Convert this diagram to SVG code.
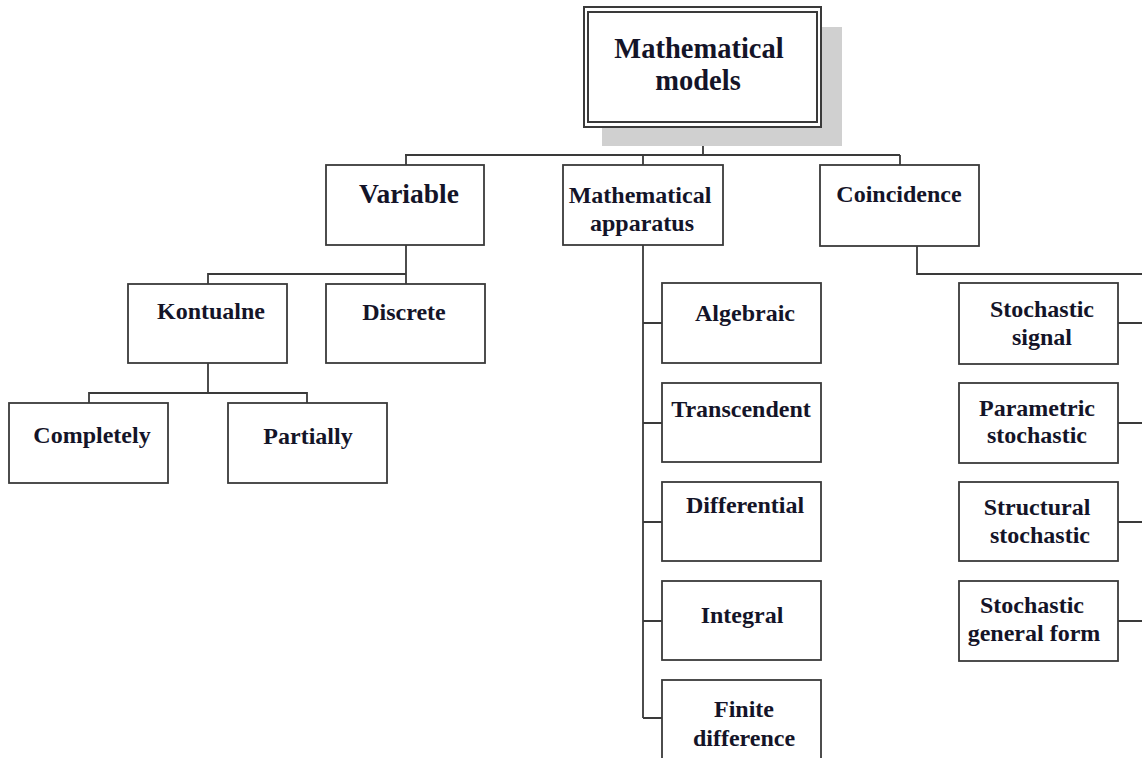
<svg xmlns="http://www.w3.org/2000/svg" width="1142" height="758" viewBox="0 0 1142 758">
<style>
.box{fill:#fff;stroke:#3a3a3a;stroke-width:1.8}
.ln{fill:none;stroke:#3a3a3a;stroke-width:1.8}
text{font-family:"Liberation Serif","Times New Roman",serif;font-weight:bold;fill:#141428;text-anchor:middle;font-size:24px}
.big{font-size:28.5px}
.v{font-size:27.5px}
</style>
<rect width="1142" height="758" fill="#fff"/>
<g id="connectors">
<path class="ln" d="M703 127V155M405 155H900M406 155V165M643 155V165M900 155V165"/>
<path class="ln" d="M406 245V274H208V284M406 274V284"/>
<path class="ln" d="M208 363V393H89V403M208 393H307V403"/>
<path class="ln" d="M643 245V718M643 323H662M643 423H662M643 522H662M643 621H662M643 718H662"/>
<path class="ln" d="M917 246V274H1142M1118 323H1142M1118 423H1142M1118 522H1142M1118 621H1142"/>
</g>
<g id="n-models">
<rect x="602" y="27" width="240" height="119" fill="#d0d0d0"/>
<rect x="584" y="7" width="237" height="120" fill="#fff" stroke="#3a3a3a" stroke-width="2"/>
<rect x="588" y="12" width="229" height="110" fill="none" stroke="#3a3a3a" stroke-width="2"/>
<text class="big" x="699" y="58">Mathematical</text>
<text class="big" x="698" y="90">models</text>
</g>
<g id="n-variable"><rect class="box" x="326" y="165" width="158" height="80"/><text class="v" x="409" y="203">Variable</text></g>
<g id="n-apparatus"><rect class="box" x="563" y="165" width="160" height="80"/><text x="640" y="203">Mathematical</text><text x="642" y="231">apparatus</text></g>
<g id="n-coincidence"><rect class="box" x="820" y="165" width="159" height="81"/><text x="899" y="202">Coincidence</text></g>
<g id="n-kontualne"><rect class="box" x="128" y="284" width="159" height="79"/><text x="211" y="319">Kontualne</text></g>
<g id="n-discrete"><rect class="box" x="326" y="284" width="159" height="79"/><text x="404" y="320">Discrete</text></g>
<g id="n-completely"><rect class="box" x="9" y="403" width="159" height="80"/><text x="92" y="443">Completely</text></g>
<g id="n-partially"><rect class="box" x="228" y="403" width="159" height="80"/><text x="308" y="444">Partially</text></g>
<g id="n-algebraic"><rect class="box" x="662" y="283" width="159" height="80"/><text x="745" y="321">Algebraic</text></g>
<g id="n-transcendent"><rect class="box" x="662" y="383" width="159" height="79"/><text x="741" y="417">Transcendent</text></g>
<g id="n-differential"><rect class="box" x="662" y="482" width="159" height="79"/><text x="745" y="513">Differential</text></g>
<g id="n-integral"><rect class="box" x="662" y="581" width="159" height="79"/><text x="742" y="623">Integral</text></g>
<g id="n-finite"><rect class="box" x="662" y="680" width="159" height="90"/><text x="744" y="717">Finite</text><text x="744" y="746">difference</text></g>
<g id="n-signal"><rect class="box" x="959" y="283" width="159" height="81"/><text x="1042" y="317">Stochastic</text><text x="1042" y="345">signal</text></g>
<g id="n-parametric"><rect class="box" x="959" y="383" width="159" height="80"/><text x="1037" y="416">Parametric</text><text x="1037" y="443">stochastic</text></g>
<g id="n-structural"><rect class="box" x="959" y="482" width="159" height="79"/><text x="1037" y="515">Structural</text><text x="1040" y="543">stochastic</text></g>
<g id="n-general"><rect class="box" x="959" y="581" width="159" height="80"/><text x="1032" y="613">Stochastic</text><text x="1034" y="641">general form</text></g>
</svg>
